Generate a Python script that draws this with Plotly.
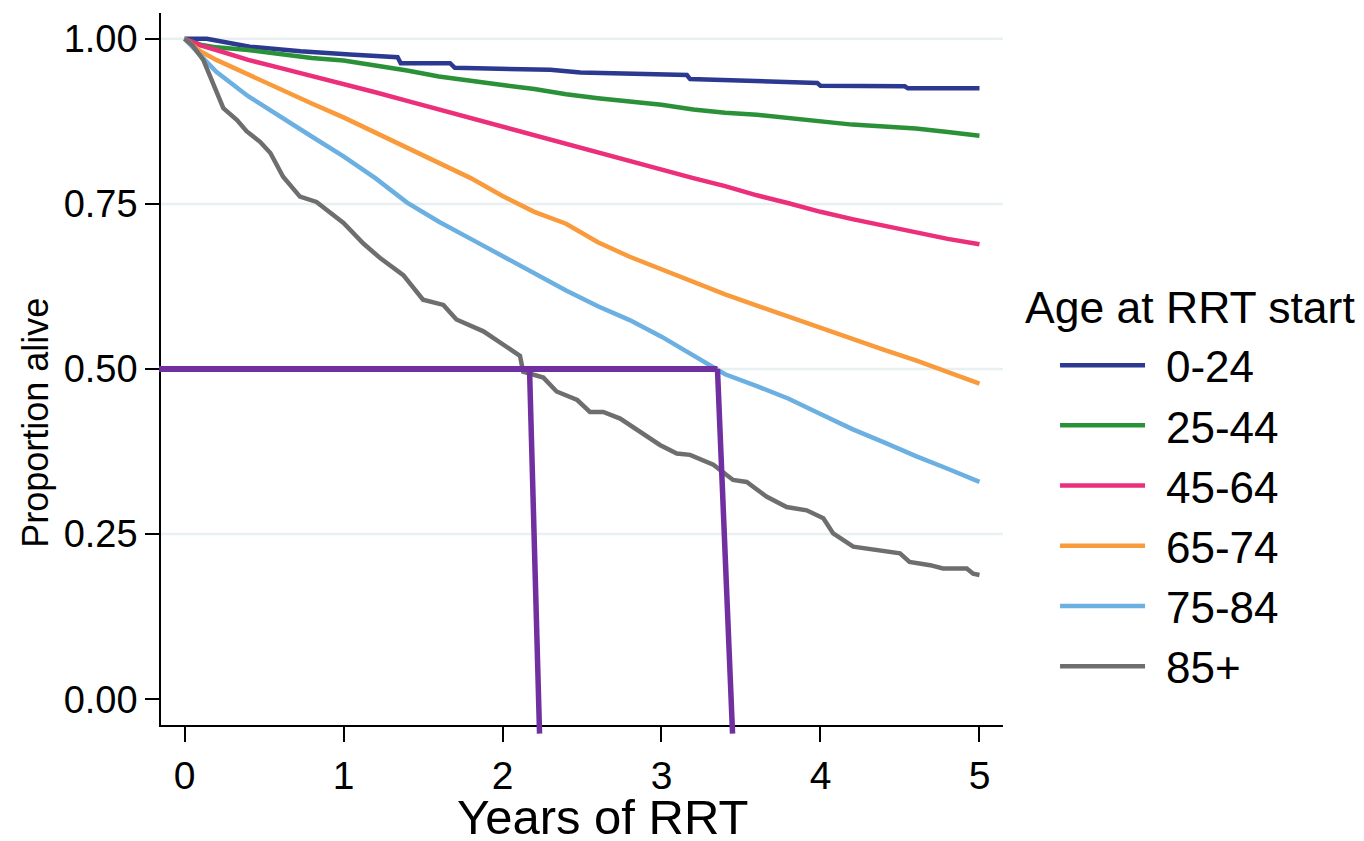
import plotly.graph_objects as go

# ---------------- data ----------------
groups = ["0-24", "25-44", "45-64", "65-74", "75-84", "85+"]
colors = ["#2b3990", "#2a9138", "#ec2f7b", "#f99a3b", "#6cb0e2", "#6e6e6e"]

t_0_24 = [0, 0.14, 0.41, 0.73, 1.04, 1.29, 1.34, 1.36, 1.67, 1.70, 2.30, 2.49,
          2.90, 3.01, 3.16, 3.18, 3.60, 3.85, 3.98, 4.00, 4.50, 4.53, 4.55, 5.0]
s_0_24 = [1.0, 1.0, 0.988, 0.981, 0.976, 0.972, 0.972, 0.963, 0.963, 0.956, 0.953, 0.949,
          0.947, 0.945, 0.945, 0.939, 0.935, 0.933, 0.933, 0.929, 0.928, 0.928, 0.925, 0.925]

t_grid = [0, 0.1, 0.2, 0.4, 0.6, 0.8, 1.0, 1.2, 1.4, 1.6, 1.8, 2.0, 2.2, 2.4,
          2.6, 2.8, 3.0, 3.2, 3.4, 3.6, 3.8, 4.0, 4.2, 4.4, 4.6, 4.8, 5.0]
s_25_44 = [1.0, 0.991, 0.987, 0.983, 0.977, 0.971, 0.967, 0.960, 0.952, 0.943, 0.936,
           0.930, 0.924, 0.916, 0.910, 0.905, 0.900, 0.893, 0.888, 0.885, 0.880, 0.875,
           0.870, 0.867, 0.864, 0.859, 0.853]
s_45_64 = [1.0, 0.990, 0.983, 0.968, 0.956, 0.944, 0.932, 0.919, 0.906, 0.893, 0.880,
           0.867, 0.853, 0.841, 0.828, 0.815, 0.802, 0.789, 0.777, 0.763, 0.751, 0.738,
           0.727, 0.717, 0.706, 0.697, 0.689]
s_65_74 = [1.0, 0.981, 0.968, 0.946, 0.923, 0.902, 0.881, 0.858, 0.836, 0.812, 0.789,
           0.762, 0.738, 0.720, 0.692, 0.670, 0.651, 0.632, 0.613, 0.596, 0.579, 0.562,
           0.545, 0.529, 0.513, 0.496, 0.478]
s_75_84 = [1.0, 0.975, 0.950, 0.913, 0.882, 0.852, 0.822, 0.789, 0.752, 0.723, 0.697,
           0.671, 0.645, 0.619, 0.595, 0.574, 0.549, 0.521, 0.492, 0.474, 0.455, 0.432,
           0.409, 0.389, 0.368, 0.349, 0.329]

t_85 = [0, 0.05, 0.118, 0.18, 0.244, 0.33, 0.39, 0.475, 0.54, 0.62, 0.726, 0.83, 1.0,
        1.125, 1.23, 1.376, 1.50, 1.628, 1.71, 1.88, 2.005, 2.11, 2.13, 2.257, 2.34,
        2.47, 2.55, 2.634, 2.74, 2.865, 2.99, 3.096, 3.18, 3.326, 3.45, 3.536, 3.66,
        3.787, 3.913, 4.018, 4.08, 4.206, 4.374, 4.5, 4.56, 4.69, 4.77, 4.92, 4.96, 5.0]
s_85 = [1.0, 0.99, 0.968, 0.933, 0.895, 0.877, 0.860, 0.844, 0.827, 0.791, 0.761, 0.753,
        0.721, 0.690, 0.668, 0.642, 0.605, 0.597, 0.575, 0.557, 0.537, 0.520, 0.496,
        0.487, 0.466, 0.453, 0.435, 0.435, 0.425, 0.405, 0.385, 0.372, 0.370, 0.355,
        0.332, 0.329, 0.307, 0.291, 0.286, 0.274, 0.251, 0.231, 0.226, 0.221, 0.208,
        0.203, 0.198, 0.198, 0.190, 0.188]

series_t = [t_0_24, t_grid, t_grid, t_grid, t_grid, t_85]
series_s = [s_0_24, s_25_44, s_45_64, s_65_74, s_75_84, s_85]

# median survival guide lines
median_level = 0.5
median_top_x = [2.17, 3.352]       # where the drop lines leave the 0.5 line
median_bottom_x = [2.233, 3.447]   # where the drop lines end, below the axis
median_bottom_y = -0.052
hline_start_x = -0.16

x_ticks = [0, 1, 2, 3, 4, 5]
y_ticks = [0, 0.25, 0.5, 0.75, 1.0]
grid_y = [0.25, 0.5, 0.75, 1.0]

x_range = [-0.148, 5.148]
y_range = [-0.039, 1.039]

# ---------------- figure ----------------
FONT = "Liberation Sans, Arial, Helvetica, sans-serif"
PURPLE = "#7030a0"
GAP = "\u00a0\u200a"  # small visual gap between legend line and label

fig = go.Figure()
for name, col, tt, ss in zip(groups, colors, series_t, series_s):
    fig.add_trace(go.Scatter(
        x=tt, y=ss, mode="lines", name=GAP + name, legendgroup=name,
        line=dict(color=col, width=4.5),
    ))

def px_paper(v):
    return (v - x_range[0]) / (x_range[1] - x_range[0])

def py_paper(v):
    return (v - y_range[0]) / (y_range[1] - y_range[0])

shapes = []
for gy in grid_y:
    shapes.append(dict(type="line", xref="paper", yref="y", x0=0, x1=1, y0=gy, y1=gy,
                       line=dict(color="#e8f0f2", width=2.5), layer="below"))
# horizontal median line
shapes.append(dict(type="line", xref="paper", yref="y",
                   x0=px_paper(hline_start_x), x1=px_paper(median_top_x[-1]),
                   y0=median_level, y1=median_level,
                   line=dict(color=PURPLE, width=6), layer="above"))
for xt, xb in zip(median_top_x, median_bottom_x):
    shapes.append(dict(type="line", xref="x", yref="paper",
                       x0=xt, x1=xb, y0=py_paper(median_level), y1=py_paper(median_bottom_y),
                       line=dict(color=PURPLE, width=5.5), layer="above"))

annotations = [
    dict(text="Years of RRT", xref="paper", yref="paper", x=0.5238, y=-0.129,
         xanchor="center", yanchor="middle", showarrow=False,
         font=dict(family=FONT, size=49, color="black")),
    dict(text="Proportion alive", xref="paper", yref="paper", x=-0.150, y=0.424,
         xanchor="center", yanchor="middle", showarrow=False, textangle=-90,
         font=dict(family=FONT, size=36, color="black")),
    dict(text="Age at RRT start", xref="paper", yref="paper", x=1.0238, y=0.5857,
         xanchor="left", yanchor="middle", showarrow=False,
         font=dict(family=FONT, size=44.5, color="black")),
]

fig.update_layout(
    width=1364, height=841,
    margin=dict(l=161, r=361, t=13, b=116),
    paper_bgcolor="white", plot_bgcolor="white",
    font=dict(family=FONT, color="black"),
    showlegend=True,
    legend=dict(x=1.0618, y=0.5547, xanchor="left", yanchor="top",
                font=dict(family=FONT, size=44, color="black"),
                itemwidth=85, tracegroupgap=0, bgcolor="rgba(0,0,0,0)"),
    shapes=shapes,
    annotations=annotations,
    xaxis=dict(range=x_range, tickvals=x_ticks, ticks="outside", ticklen=15, tickwidth=1.5,
               tickcolor="black", showline=True, linecolor="black", linewidth=1.5,
               showgrid=False, zeroline=False,
               tickfont=dict(family=FONT, size=39, color="black")),
    yaxis=dict(range=y_range, tickvals=y_ticks, tickformat=".2f", ticks="outside",
               ticklen=14, tickwidth=1.5, tickcolor="black", showline=True,
               linecolor="black", linewidth=1.5, showgrid=False, zeroline=False,
               tickfont=dict(family=FONT, size=38, color="black")),
)

fig.write_html("out.html")
